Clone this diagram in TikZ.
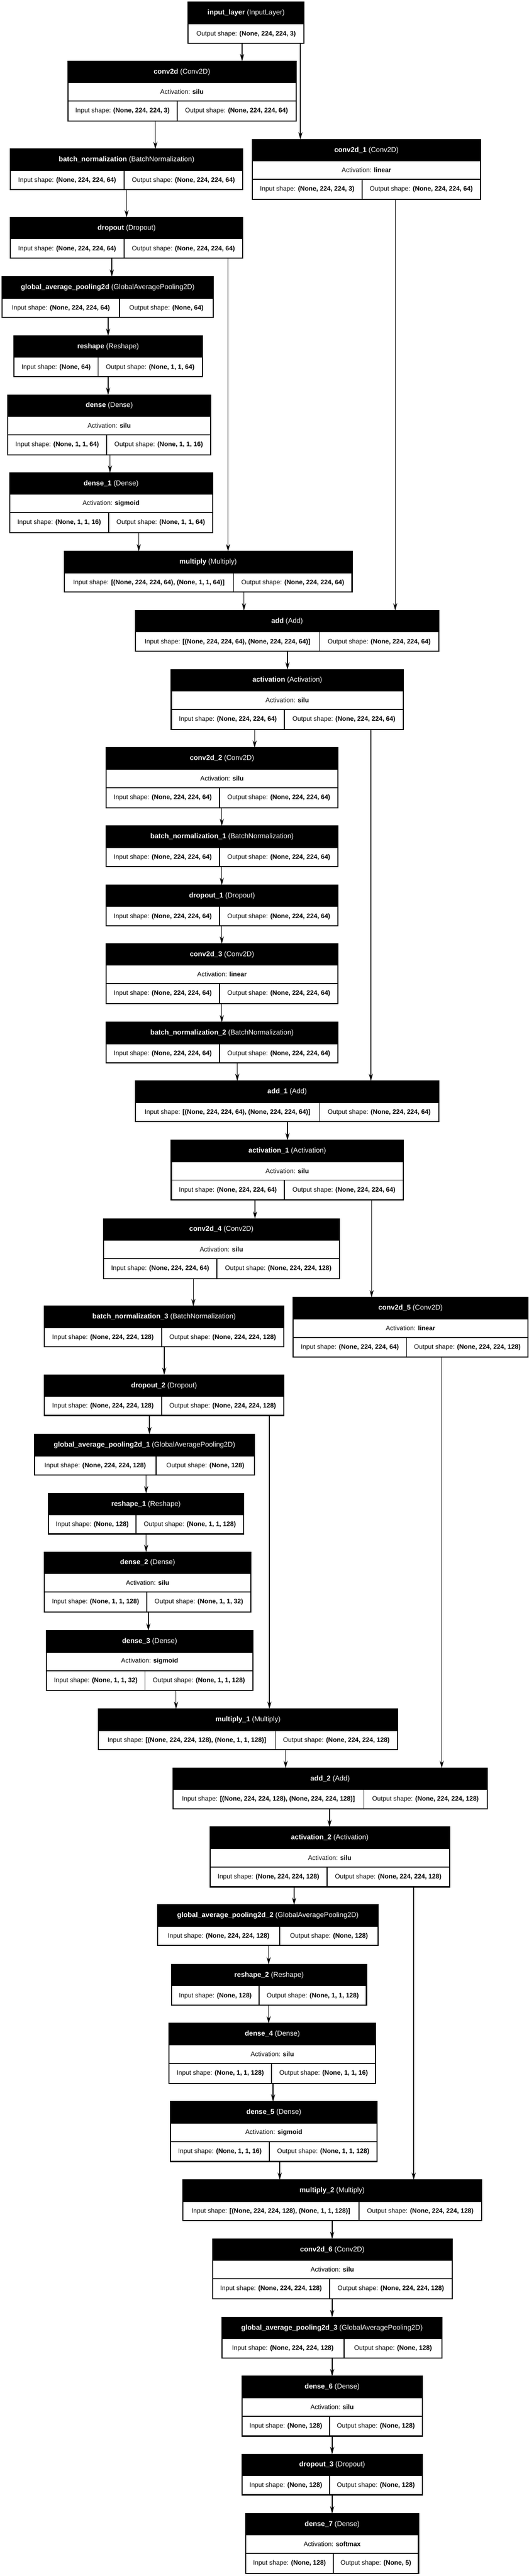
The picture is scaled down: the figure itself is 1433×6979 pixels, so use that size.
\documentclass[tikz,border=0pt]{standalone}
\usepackage{fontspec}
\setmainfont{Liberation Sans}
\usetikzlibrary{arrows.meta}
\tikzset{
  box/.style={draw=none,inner sep=0pt,outer sep=0pt,rectangle},
  outer/.style={draw=black,line width=3pt},
  inner/.style={draw=black,line width=2.5pt},
  hd/.style={text=white,font=\fontsize{19}{22}\selectfont,inner sep=0pt},
  tx/.style={text=black,font=\fontsize{17.5}{20}\selectfont,inner sep=0pt},
  arr/.style={draw=black,line width=2pt,-{Stealth[length=20pt,width=11pt]}}
}
\newcommand\T[2]{\textbf{#1} (#2)}
% 2-row layer: name, x1, y1, x2, div, title, in, out
\newcommand\layB[8]{%
  \node[box,minimum width={(#4-#2)*1pt},minimum height=110pt,anchor=north west] (#1) at (#2,#3) {};
  \fill[black] (#2,#3) rectangle (#4,#3+58);
  \node[hd] at ({(#2+#4)/2},#3+29) {#6};
  \draw[inner] (#2,#3+58) -- (#4,#3+58);
  \draw[inner] (#5,#3+58) -- (#5,#3+110);
  \node[tx] at ({(#2+#5)/2},#3+85) {Input shape: \textbf{#7}};
  \node[tx] at ({(#5+#4)/2},#3+85) {Output shape: \textbf{#8}};
  \draw[outer] (#2,#3) rectangle (#4,#3+110);
}
% 3-row layer: name, x1, y1, x2, div, title, activation, in, out
\newcommand\layA[9]{%
  \node[box,minimum width={(#4-#2)*1pt},minimum height=162pt,anchor=north west] (#1) at (#2,#3) {};
  \fill[black] (#2,#3) rectangle (#4,#3+58);
  \node[hd] at ({(#2+#4)/2},#3+29) {#6};
  \draw[inner] (#2,#3+58) -- (#4,#3+58);
  \node[tx] at ({(#2+#4)/2},#3+83) {Activation: \textbf{#7}};
  \draw[inner] (#2,#3+108) -- (#4,#3+108);
  \draw[inner] (#5,#3+108) -- (#5,#3+162);
  \node[tx] at ({(#2+#5)/2},#3+135) {Input shape: \textbf{#8}};
  \node[tx] at ({(#5+#4)/2},#3+135) {Output shape: \textbf{#9}};
  \draw[outer] (#2,#3) rectangle (#4,#3+162);
}
\newcommand\edge[3]{\draw[arr] (#3,0 |- #1.south) -- (#3,0 |- #2.north);}
\begin{document}
\begin{tikzpicture}[x=1pt,y=-1pt]
\useasboundingbox[fill=white] (0,0) rectangle (1433,6979);
% input layer
\node[box,minimum width=314pt,minimum height=112pt,anchor=north west] (input) at (510,5) {};
\fill[black] (510,5) rectangle (824,66);
\node[hd] at (667,35) {\T{input\_layer}{InputLayer}};
\node[tx] at (667,92) {Output shape: \textbf{(None, 224, 224, 3)}};
\draw[outer] (510,5) rectangle (824,117);

\layA{c0}{184}{166}{802}{480}{\T{conv2d}{Conv2D}}{silu}{(None, 224, 224, 3)}{(None, 224, 224, 64)}
\layA{c1}{684}{378}{1302}{981}{\T{conv2d\_1}{Conv2D}}{linear}{(None, 224, 224, 3)}{(None, 224, 224, 64)}
\layB{bn0}{28}{404}{658}{336}{\T{batch\_normalization}{BatchNormalization}}{(None, 224, 224, 64)}{(None, 224, 224, 64)}
\layB{do0}{28}{589}{658}{336}{\T{dropout}{Dropout}}{(None, 224, 224, 64)}{(None, 224, 224, 64)}
\layB{gp0}{6}{750}{578}{324}{\T{global\_average\_pooling2d}{GlobalAveragePooling2D}}{(None, 224, 224, 64)}{(None, 64)}
\layB{rs0}{38}{910}{548}{266}{\T{reshape}{Reshape}}{(None, 64)}{(None, 1, 1, 64)}
\layA{d0}{21}{1070}{571}{289}{\T{dense}{Dense}}{silu}{(None, 1, 1, 64)}{(None, 1, 1, 16)}
\layA{d1}{26}{1281}{576}{295}{\T{dense\_1}{Dense}}{sigmoid}{(None, 1, 1, 16)}{(None, 1, 1, 64)}
\layB{m0}{174}{1494}{954}{633}{\T{multiply}{Multiply}}{[(None, 224, 224, 64), (None, 1, 1, 64)]}{(None, 224, 224, 64)}
\layB{a0}{367}{1654}{1189}{866}{\T{add}{Add}}{[(None, 224, 224, 64), (None, 224, 224, 64)]}{(None, 224, 224, 64)}
\layA{ac0}{464}{1814}{1093}{771}{\T{activation}{Activation}}{silu}{(None, 224, 224, 64)}{(None, 224, 224, 64)}
\layA{c2}{287}{2026}{916}{595}{\T{conv2d\_2}{Conv2D}}{silu}{(None, 224, 224, 64)}{(None, 224, 224, 64)}
\layB{bn1}{287}{2238}{916}{595}{\T{batch\_normalization\_1}{BatchNormalization}}{(None, 224, 224, 64)}{(None, 224, 224, 64)}
\layB{do1}{287}{2398}{916}{595}{\T{dropout\_1}{Dropout}}{(None, 224, 224, 64)}{(None, 224, 224, 64)}
\layA{c3}{287}{2557}{916}{595}{\T{conv2d\_3}{Conv2D}}{linear}{(None, 224, 224, 64)}{(None, 224, 224, 64)}
\layB{bn2}{287}{2770}{916}{595}{\T{batch\_normalization\_2}{BatchNormalization}}{(None, 224, 224, 64)}{(None, 224, 224, 64)}
\layB{a1}{367}{2929}{1189}{866}{\T{add\_1}{Add}}{[(None, 224, 224, 64), (None, 224, 224, 64)]}{(None, 224, 224, 64)}
\layA{ac1}{464}{3089}{1093}{771}{\T{activation\_1}{Activation}}{silu}{(None, 224, 224, 64)}{(None, 224, 224, 64)}
\layA{c4}{280}{3302}{920}{588}{\T{conv2d\_4}{Conv2D}}{silu}{(None, 224, 224, 64)}{(None, 224, 224, 128)}
\layA{c5}{794}{3515}{1431}{1102}{\T{conv2d\_5}{Conv2D}}{linear}{(None, 224, 224, 64)}{(None, 224, 224, 128)}
\layB{bn3}{120}{3539}{769}{438}{\T{batch\_normalization\_3}{BatchNormalization}}{(None, 224, 224, 128)}{(None, 224, 224, 128)}
\layB{do2}{120}{3725}{769}{438}{\T{dropout\_2}{Dropout}}{(None, 224, 224, 128)}{(None, 224, 224, 128)}
\layB{gp1}{93}{3886}{690}{423}{\T{global\_average\_pooling2d\_1}{GlobalAveragePooling2D}}{(None, 224, 224, 128)}{(None, 128)}
\layB{rs1}{131}{4046}{660}{369}{\T{reshape\_1}{Reshape}}{(None, 128)}{(None, 1, 1, 128)}
\layA{d2}{120}{4205}{680}{398}{\T{dense\_2}{Dense}}{silu}{(None, 1, 1, 128)}{(None, 1, 1, 32)}
\layA{d3}{126}{4418}{685}{393}{\T{dense\_3}{Dense}}{sigmoid}{(None, 1, 1, 32)}{(None, 1, 1, 128)}
\layB{m1}{267}{4630}{1077}{746}{\T{multiply\_1}{Multiply}}{[(None, 224, 224, 128), (None, 1, 1, 128)]}{(None, 224, 224, 128)}
\layB{a2}{469}{4790}{1320}{986}{\T{add\_2}{Add}}{[(None, 224, 224, 128), (None, 224, 224, 128)]}{(None, 224, 224, 128)}
\layA{ac2}{569}{4950}{1218}{886}{\T{activation\_2}{Activation}}{silu}{(None, 224, 224, 128)}{(None, 224, 224, 128)}
\layB{gp2}{427}{5161}{1025}{758}{\T{global\_average\_pooling2d\_2}{GlobalAveragePooling2D}}{(None, 224, 224, 128)}{(None, 128)}
\layB{rs2}{465}{5322}{993}{702}{\T{reshape\_2}{Reshape}}{(None, 128)}{(None, 1, 1, 128)}
\layA{d4}{458}{5482}{1018}{736}{\T{dense\_4}{Dense}}{silu}{(None, 1, 1, 128)}{(None, 1, 1, 16)}
\layA{d5}{462}{5694}{1022}{730}{\T{dense\_5}{Dense}}{sigmoid}{(None, 1, 1, 16)}{(None, 1, 1, 128)}
\layB{m2}{495}{5906}{1305}{973}{\T{multiply\_2}{Multiply}}{[(None, 224, 224, 128), (None, 1, 1, 128)]}{(None, 224, 224, 128)}
\layA{c6}{576}{6066}{1225}{893}{\T{conv2d\_6}{Conv2D}}{silu}{(None, 224, 224, 128)}{(None, 224, 224, 128)}
\layB{gp3}{601}{6278}{1198}{932}{\T{global\_average\_pooling2d\_3}{GlobalAveragePooling2D}}{(None, 224, 224, 128)}{(None, 128)}
\layA{d6}{656}{6438}{1144}{893}{\T{dense\_6}{Dense}}{silu}{(None, 128)}{(None, 128)}
\layB{do3}{656}{6649}{1144}{893}{\T{dropout\_3}{Dropout}}{(None, 128)}{(None, 128)}
\layA{d7}{666}{6810}{1134}{903}{\T{dense\_7}{Dense}}{softmax}{(None, 128)}{(None, 5)}

% edges
\edge{input}{c0}{656}
\edge{input}{c1}{814}
\edge{c0}{bn0}{421}
\edge{c1}{a0}{1071}
\edge{bn0}{do0}{343}
\edge{do0}{gp0}{303}
\edge{do0}{m0}{618}
\edge{gp0}{rs0}{293}
\edge{rs0}{d0}{293}
\edge{d0}{d1}{298}
\edge{d1}{m0}{376}
\edge{m0}{a0}{661}
\edge{a0}{ac0}{779}
\edge{ac0}{c2}{690}
\edge{ac0}{a1}{1005}
\edge{c2}{bn1}{601}
\edge{bn1}{do1}{601}
\edge{do1}{c3}{601}
\edge{c3}{bn2}{601}
\edge{bn2}{a1}{643}
\edge{a1}{ac1}{779}
\edge{ac1}{c4}{691}
\edge{ac1}{c5}{1007}
\edge{c4}{bn3}{524}
\edge{bn3}{do2}{445}
\edge{do2}{gp1}{405}
\edge{do2}{m1}{730}
\edge{gp1}{rs1}{396}
\edge{rs1}{d2}{396}
\edge{d2}{d3}{402}
\edge{d3}{m1}{477}
\edge{c5}{a2}{1197}
\edge{m1}{a2}{774}
\edge{a2}{ac2}{893}
\edge{ac2}{gp2}{797}
\edge{ac2}{m2}{1121}
\edge{gp2}{rs2}{728}
\edge{rs2}{d4}{728}
\edge{d4}{d5}{740}
\edge{d5}{m2}{758}
\edge{m2}{c6}{900}
\edge{c6}{gp3}{900}
\edge{gp3}{d6}{900}
\edge{d6}{do3}{900}
\edge{do3}{d7}{900}
\end{tikzpicture}
\end{document}
